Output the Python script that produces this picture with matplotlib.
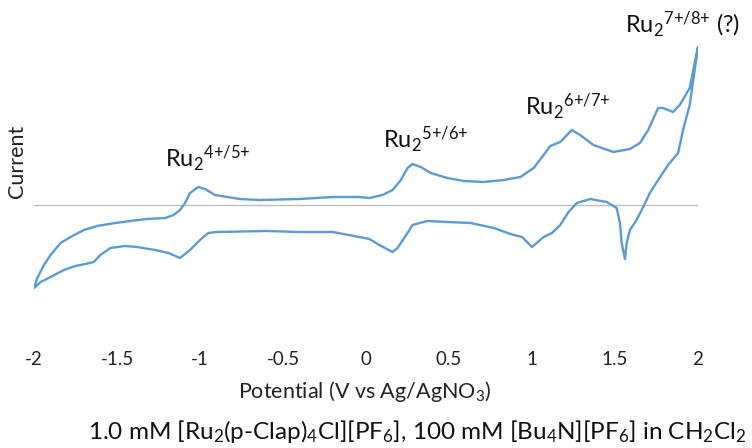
import matplotlib
matplotlib.use("Agg")
import matplotlib.pyplot as plt

plt.rcParams['font.family'] = ['Lato', 'DejaVu Sans']
plt.rcParams['mathtext.fontset'] = 'custom'
plt.rcParams['mathtext.rm'] = 'Lato'
plt.rcParams['mathtext.default'] = 'rm'

# forward scan (-2 -> 2 V), arbitrary current units
fwd_v = [-2.00, -1.98, -1.94, -1.90, -1.84, -1.78, -1.70, -1.62, -1.51, -1.42,
         -1.32, -1.21, -1.16, -1.12, -1.09, -1.06, -1.01, -0.97, -0.91, -0.76,
         -0.64, -0.40, -0.20, -0.04, 0.02, 0.10, 0.16, 0.21, 0.25, 0.28,
         0.33, 0.39, 0.49, 0.59, 0.71, 0.83, 0.93, 1.01, 1.07, 1.11,
         1.17, 1.24, 1.29, 1.37, 1.49, 1.59, 1.65, 1.70, 1.76, 1.79,
         1.85, 1.89, 1.95, 2.00]
fwd_i = [-83, -73, -60, -50, -38, -32, -25, -21, -18, -16,
         -14, -13, -10, -5, 2, 12, 18, 16, 10, 6,
         5, 6, 8, 8, 7, 10, 15, 25, 37, 41,
         38, 32, 27, 24, 23, 25, 28, 37, 50, 59,
         63, 75, 70, 60, 53, 56, 62, 75, 97, 97,
         93, 100, 117, 158]

# reverse scan (2 -> -2 V)
rev_v = [2.00, 1.98, 1.95, 1.91, 1.88, 1.82, 1.76, 1.71, 1.67, 1.63,
         1.59, 1.57, 1.56, 1.54, 1.53, 1.51, 1.45, 1.35, 1.27, 1.22,
         1.17, 1.12, 1.07, 1.00, 0.94, 0.87, 0.77, 0.63, 0.49, 0.37,
         0.28, 0.25, 0.19, 0.16, 0.08, 0.02, -0.04, -0.20, -0.40, -0.60,
         -0.90, -0.95, -1.00, -1.06, -1.12, -1.19, -1.27, -1.38, -1.45, -1.54,
         -1.60, -1.64, -1.69, -1.75, -1.82, -1.90, -1.96, -2.00]
rev_i = [158, 135, 100, 75, 52, 40, 25, 12, -2, -15,
         -25, -38, -54, -38, -18, -3, 3, 6, 2, -7,
         -20, -28, -32, -42, -32, -29, -23, -18, -17, -16,
         -20, -28, -43, -47, -40, -34, -32, -27, -27, -26,
         -27, -28, -35, -45, -53, -48, -45, -42, -41, -43,
         -50, -57, -59, -61, -65, -72, -77, -83]

xticks = [-2, -1.5, -1, -0.5, 0, 0.5, 1, 1.5, 2]
xtick_labels = ['-2', '-1.5', '-1', '-0.5', '0', '0.5', '1', '1.5', '2']

labels = [r'Ru$_2$$^{4{+}/5{+}}$', r'Ru$_2$$^{5{+}/6{+}}$',
          r'Ru$_2$$^{6{+}/7{+}}$', r'Ru$_2$$^{7{+}/8{+}}$ (?)']
label_v = [-1.21, 0.10, 0.96, 1.56]
label_i = [38, 57, 90, 173]

fig = plt.figure(figsize=(7.52, 4.48), dpi=100)
W, H = 752, 448
ax = fig.add_axes([34 / W, 1 - 345 / H, (698 - 34) / W, (345 - 30) / H])

ax.plot(fwd_v + rev_v, fwd_i + rev_i, color='#5B9BD5', lw=1.7,
        solid_joinstyle='round', solid_capstyle='round')
ax.axhline(0, color='#BFBFBF', lw=1.0, zorder=0)

ax.set_xlim(-2, 2)
ax.set_ylim(-140, 175)
for s in ax.spines.values():
    s.set_visible(False)
ax.set_yticks([])
ax.set_xticks(xticks)
ax.set_xticklabels(xtick_labels, fontsize=13.5, color='#222222')
ax.tick_params(axis='x', length=0, pad=4)

for t, v, i in zip(labels, label_v, label_i):
    ax.text(v, i, t, fontsize=17, color='#111111', ha='left', va='baseline')

fig.text(238 / W, 1 - 398 / H, r'Potential (V vs Ag/AgNO$_3$)', fontsize=15.5,
         ha='left', va='baseline', color='#222222')
fig.text(17 / W, 1 - 161 / H, 'Current', fontsize=15.5, rotation=90,
         ha='center', va='center', color='#222222')
fig.text(88 / W, 1 - 439 / H,
         r'1.0 mM [Ru$_2$(p-Clap)$_4$Cl][PF$_6$], 100 mM [Bu$_4$N][PF$_6$] in CH$_2$Cl$_2$',
         fontsize=17.5, ha='left', va='baseline', color='#111111')

fig.savefig('out.png', dpi=100)
